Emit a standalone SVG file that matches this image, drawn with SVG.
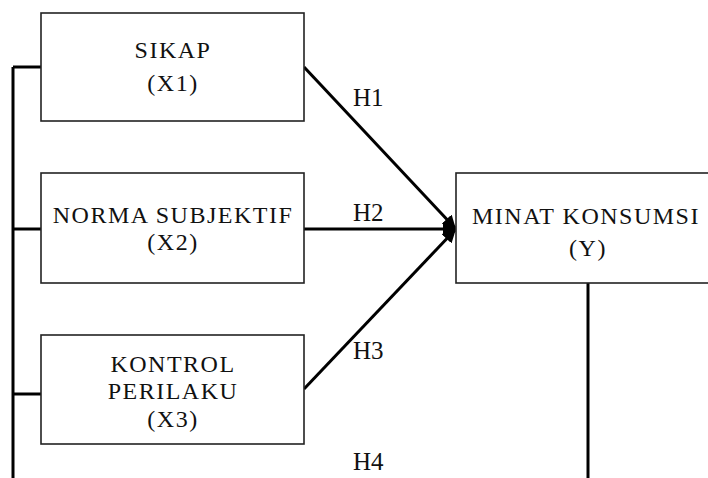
<svg xmlns="http://www.w3.org/2000/svg" width="708" height="478" viewBox="0 0 708 478">
<style>
.box{fill:#fff;stroke:#222;stroke-width:1.6}
.t{font-family:"Liberation Serif","Times New Roman",serif;font-size:24px;fill:#111;text-anchor:middle;letter-spacing:1.5px}
.h{font-family:"Liberation Serif","Times New Roman",serif;font-size:25px;fill:#111}
.c{fill:none;stroke:#000;stroke-width:3}
</style>
<defs>
<marker id="ah" viewBox="0 0 10 10" refX="9" refY="5" markerWidth="4.5" markerHeight="4.5" orient="auto" markerUnits="strokeWidth">
<path d="M0,0 L10,5 L0,10 z" fill="#000"/>
</marker>
</defs>
<rect width="708" height="478" fill="#fff"/>
<g id="connectors">
<path class="c" d="M13,67 V478"/>
<path class="c" d="M13,67 H41"/>
<path class="c" d="M13,229 H41"/>
<path class="c" d="M13,394 H41"/>
<path class="c" d="M304,67 L455,228" marker-end="url(#ah)"/>
<path class="c" d="M304,229 H455" marker-end="url(#ah)"/>
<path class="c" d="M304,389 L455,230" marker-end="url(#ah)"/>
<path class="c" d="M588,283 V478"/>
<text class="h" x="353" y="106">H1</text>
<text class="h" x="353" y="221">H2</text>
<text class="h" x="353" y="359">H3</text>
<text class="h" x="353" y="470">H4</text>
</g>
<g id="x1">
<rect class="box" x="41" y="13" width="263" height="108"/>
<text class="t" x="173" y="58">SIKAP</text>
<text class="t" x="173" y="91">(X1)</text>
</g>
<g id="x2">
<rect class="box" x="41" y="173" width="263" height="110"/>
<text class="t" x="173" y="223">NORMA SUBJEKTIF</text>
<text class="t" x="173" y="250">(X2)</text>
</g>
<g id="x3">
<rect class="box" x="41" y="335" width="263" height="109"/>
<text class="t" x="173" y="372">KONTROL</text>
<text class="t" x="173" y="399">PERILAKU</text>
<text class="t" x="173" y="427">(X3)</text>
</g>
<g id="y">
<rect class="box" x="456" y="173" width="270" height="110"/>
<text class="t" x="586" y="224">MINAT KONSUMSI</text>
<text class="t" x="588" y="256">(Y)</text>
</g>
</svg>
